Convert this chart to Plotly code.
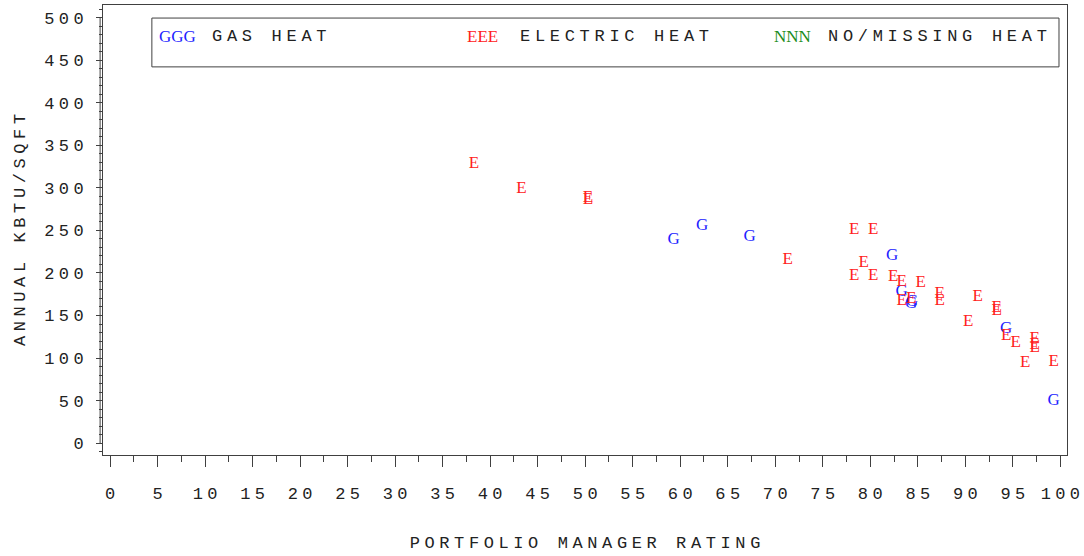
import plotly.graph_objects as go

# portfolio manager rating vs annual kBtu/sqft
gas_rating = [59.3, 62.3, 67.3, 82.3, 83.3, 84.3, 84.4, 94.3, 99.3]
gas_kbtu = [239, 255, 243, 220, 178, 164, 166, 135, 50]

elec_rating = [38.3, 43.3, 50.3, 50.3, 71.3, 78.3, 80.3, 79.3, 78.3, 80.3,
               82.4, 83.3, 85.3, 83.3, 84.3, 87.3, 87.3, 91.3, 93.3, 93.3,
               90.3, 94.3, 95.3, 97.3, 97.3, 97.3, 96.3, 99.3]
elec_kbtu = [328, 299, 289, 286, 215, 251, 251, 212, 197, 197,
             196, 190, 188, 167, 170, 175, 167, 172, 159, 155,
             143, 126, 118, 123, 116, 112, 95, 96]

x_ticks = list(range(0, 101, 5))
y_ticks = list(range(0, 501, 50))

MONO = "Liberation Mono, Courier New, monospace"
SERIF = "Liberation Serif, Times New Roman, serif"
AXIS = "#404040"
TXT = "#222"


def spaced(s, px=4.4):
    # letter spacing on every char but the last, so the text stays centred
    if len(s) < 2:
        return s
    return f'<span style="letter-spacing:{px}px">{s[:-1]}</span>{s[-1]}'


fig = go.Figure()
fig.add_trace(go.Scatter(x=gas_rating, y=gas_kbtu, mode="text", text=["G"] * len(gas_rating),
                         textfont=dict(family=SERIF, size=17, color="#1f1fff"),
                         textposition="middle center", showlegend=False))
fig.add_trace(go.Scatter(x=elec_rating, y=elec_kbtu, mode="text", text=["E"] * len(elec_rating),
                         textfont=dict(family=SERIF, size=17, color="#ff2020"),
                         textposition="middle center", showlegend=False))

fig.update_xaxes(range=[-0.74, 100.7], tickvals=x_ticks, ticktext=[spaced(str(v)) for v in x_ticks],
                 ticks="outside", ticklen=11, tickcolor=AXIS, tickwidth=1,
                 minor=dict(dtick=2.5, tick0=0, ticks="outside", ticklen=6, tickcolor=AXIS),
                 showline=True, mirror=True, linecolor=AXIS, linewidth=1,
                 showgrid=False, zeroline=False, ticklabelstandoff=12, ticklabeloverflow="allow",
                 tickfont=dict(family=MONO, size=17, color=TXT),
                 title=dict(text=spaced("PORTFOLIO MANAGER RATING", 4.6), standoff=32,
                            font=dict(family=MONO, size=17, color=TXT)))
fig.update_yaxes(range=[-14, 515], tickvals=y_ticks, ticktext=[spaced(str(v)) for v in y_ticks],
                 ticks="outside", ticklen=6, tickcolor=AXIS, tickwidth=1,
                 minor=dict(dtick=10, tick0=0, ticks="outside", ticklen=3, tickcolor=AXIS),
                 showline=True, mirror=True, linecolor=AXIS, linewidth=1,
                 showgrid=False, zeroline=False, ticklabelstandoff=9,
                 tickfont=dict(family=MONO, size=17, color=TXT),
                 title=dict(text=spaced("ANNUAL KBTU/SQFT", 4.6), standoff=14,
                            font=dict(family=MONO, size=17, color=TXT)))

# y axis line sits a little left of the frame, spanning the tick range only
fig.add_shape(type="line", xref="paper", yref="y", x0=-0.003, x1=-0.003, y0=0, y1=500,
              line=dict(color=AXIS, width=1))

# legend box
fig.add_shape(type="rect", xref="paper", yref="paper", x0=0.0507, x1=0.9917, y0=0.8625, y1=0.971,
              line=dict(color=AXIS, width=1))
legend_items = [
    (0.0559, "GGG", "#1f1fff", 0.1108, "GAS HEAT"),
    (0.3758, "EEE", "#ff2020", 0.4306, "ELECTRIC HEAT"),
    (0.6936, "NNN", "#1a8c1a", 0.7495, "NO/MISSING HEAT"),
]
for xs, sym, col, xl, label in legend_items:
    fig.add_annotation(x=xs, y=0.929, xref="paper", yref="paper", text=sym, showarrow=False,
                       xanchor="left", yanchor="middle",
                       font=dict(family=SERIF, size=17, color=col))
    fig.add_annotation(x=xl, y=0.929, xref="paper", yref="paper", text=spaced(label, 4.7),
                       showarrow=False, xanchor="left", yanchor="middle",
                       font=dict(family=MONO, size=17, color=TXT))

fig.update_layout(width=1084, height=556, margin=dict(l=103, r=15, t=4, b=101),
                  plot_bgcolor="white", paper_bgcolor="white")

fig.write_html("out.html", config={"displayModeBar": False},
               post_script="document.body.style.margin='0';")
